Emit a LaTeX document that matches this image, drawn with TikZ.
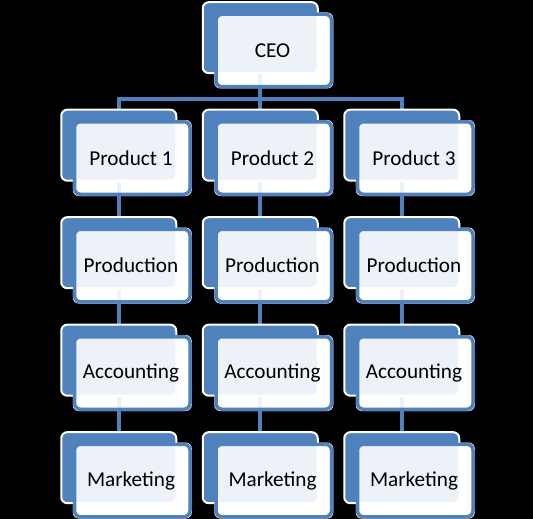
\documentclass[tikz,border=0pt]{standalone}
\usepackage{fontspec}
\setmainfont{Carlito}
\pgfdeclarelayer{base}
\pgfdeclarelayer{conn}
\pgfdeclarelayer{backl}
\pgfsetlayers{base,conn,backl,main}
\definecolor{sablue}{HTML}{4F81BD}
\tikzset{
  backbox/.style={rectangle, rounded corners=6pt, fill=sablue, draw=white, line width=2pt,
    minimum width=115pt, minimum height=71pt, inner sep=0pt},
  frontbox/.style={rectangle, rounded corners=6pt, draw=sablue, line width=3.5pt,
    fill=white, fill opacity=0.9, text opacity=1, draw opacity=1, text=black,
    minimum width=115.5pt, minimum height=72.5pt, inner sep=0pt,
    font=\fontsize{21.2}{25}\selectfont, execute at begin node=\kern-2.5pt},
  link/.style={draw=sablue, line width=4pt, line join=miter},
  whitebase/.style={fill=white, rounded corners=6pt},
}
\begin{document}
\begin{tikzpicture}[x=1pt,y=-1pt]
\useasboundingbox (0,0) rectangle (533,519);
% back boxes
\begin{pgfonlayer}{backl}
  \node[backbox] (ceob) at (260.25,37.7) {};
  \foreach \c [count=\i] in {118.75,260.25,401.75}{
    \node[backbox] (prodb\i) at (\c,145.2) {};
    \node[backbox] (pronb\i) at (\c,252.7) {};
    \node[backbox] (accb\i) at (\c,360.2) {};
    \node[backbox] (mktb\i) at (\c,467.7) {};
  }
\end{pgfonlayer}
% front boxes
\node[frontbox] (ceo) at (273.75,50.5) {CEO};
\foreach \c [count=\i] in {118.75,260.25,401.75}{
  \pgfmathsetmacro\fx{\c+13.5}
  \node[frontbox] (prod\i) at (\fx,158) {Product \i};
  \node[frontbox] (pron\i) at (\fx,265.5) {Production};
  \node[frontbox] (acc\i) at (\fx,373) {Accounting};
  \node[frontbox] (mkt\i) at (\fx,480.5) {Marketing};
}
% background and white bases
\begin{pgfonlayer}{base}
  \fill[black] (0,0) rectangle (533,519);
  \foreach \n in {ceo,prod1,prod2,prod3,pron1,pron2,pron3,acc1,acc2,acc3,mkt1,mkt2,mkt3}{
    \fill[whitebase] (\n.south west) rectangle (\n.north east);
  }
\end{pgfonlayer}
% connectors
\begin{pgfonlayer}{conn}
  \coordinate (bus) at (260.25,99);
  \draw[link] (prodb1.north) |- (bus) -| (prodb3.north);
  \draw[link] (ceob.south) -- (prodb2.north);
  \foreach \i in {1,2,3}{
    \draw[link] (prodb\i.south) -- (pronb\i.north);
    \draw[link] (pronb\i.south) -- (accb\i.north);
    \draw[link] (accb\i.south) -- (mktb\i.north);
  }
\end{pgfonlayer}
\end{tikzpicture}
\end{document}
